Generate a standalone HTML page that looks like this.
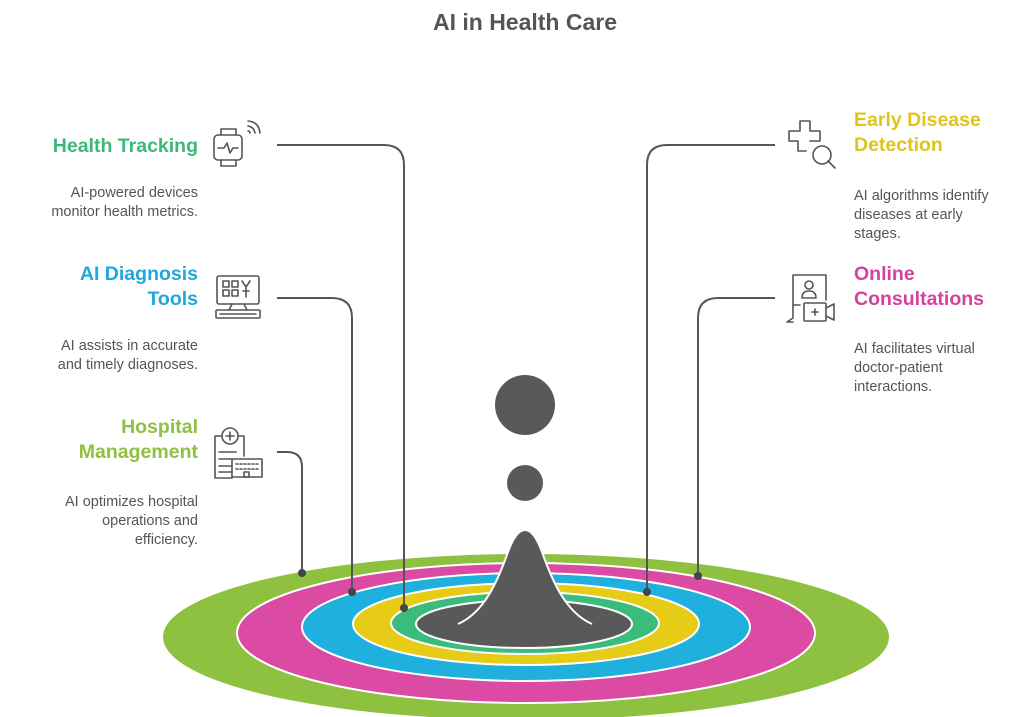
<!DOCTYPE html>
<html><head><meta charset="utf-8"><style>
html,body{margin:0;padding:0;background:#fff;}
svg{display:block;font-family:"Liberation Sans",Arial,sans-serif;}
.h{font-size:19.5px;font-weight:bold;}
.b{font-size:14.5px;fill:#555;}
.ic{fill:none;stroke:#555;stroke-width:1.6;stroke-linecap:round;stroke-linejoin:round;}
.ln{fill:none;stroke:#555;stroke-width:2;}
</style></head><body>
<svg width="1024" height="717" viewBox="0 0 1024 717">
<text x="525" y="30" text-anchor="middle" font-size="23" font-weight="bold" fill="#555">AI in Health Care</text>

<!-- rings -->
<ellipse cx="526" cy="637" rx="363" ry="83" fill="#8dc13f"/>
<ellipse cx="526" cy="633" rx="289" ry="70" fill="#db4aa3" stroke="#fff" stroke-width="2"/>
<ellipse cx="526" cy="627" rx="224" ry="54" fill="#1fb0de" stroke="#fff" stroke-width="2"/>
<ellipse cx="526" cy="624" rx="173" ry="41" fill="#e6cc16" stroke="#fff" stroke-width="2"/>
<ellipse cx="525" cy="623" rx="134" ry="31" fill="#3cbc7c" stroke="#fff" stroke-width="2"/>
<ellipse cx="524" cy="624" rx="108" ry="24" fill="#595959" stroke="#fff" stroke-width="2"/>
<path d="M458 624 C485 612 498 580 508 552 Q516 530 525 530 Q534 530 542 552 C552 580 565 612 592 624" fill="#595959" stroke="#fff" stroke-width="2"/>
<circle cx="525" cy="405" r="30" fill="#595959"/>
<circle cx="525" cy="483" r="18" fill="#595959"/>

<!-- connectors -->
<path class="ln" d="M277 145 H384 Q404 145 404 165 V608"/>
<circle cx="404" cy="608" r="4" fill="#444"/>
<path class="ln" d="M277 298 H332 Q352 298 352 318 V592"/>
<circle cx="352" cy="592" r="4" fill="#444"/>
<path class="ln" d="M277 452 H287 Q302 452 302 467 V573"/>
<circle cx="302" cy="573" r="4" fill="#444"/>
<path class="ln" d="M775 145 H667 Q647 145 647 165 V592"/>
<circle cx="647" cy="592" r="4" fill="#444"/>
<path class="ln" d="M775 298 H718 Q698 298 698 318 V576"/>
<circle cx="698" cy="576" r="4" fill="#444"/>

<!-- left texts -->
<text class="h" x="198" y="152" text-anchor="end" fill="#3cb878">Health Tracking</text>
<text class="b" x="198" y="197" text-anchor="end">AI-powered devices</text>
<text class="b" x="198" y="216" text-anchor="end">monitor health metrics.</text>
<text class="h" x="198" y="280" text-anchor="end" fill="#1ea8dc">AI Diagnosis</text>
<text class="h" x="198" y="305" text-anchor="end" fill="#1ea8dc">Tools</text>
<text class="b" x="198" y="350" text-anchor="end">AI assists in accurate</text>
<text class="b" x="198" y="369" text-anchor="end">and timely diagnoses.</text>
<text class="h" x="198" y="433" text-anchor="end" fill="#8dc13f">Hospital</text>
<text class="h" x="198" y="458" text-anchor="end" fill="#8dc13f">Management</text>
<text class="b" x="198" y="506" text-anchor="end">AI optimizes hospital</text>
<text class="b" x="198" y="525" text-anchor="end">operations and</text>
<text class="b" x="198" y="544" text-anchor="end">efficiency.</text>

<!-- right texts -->
<text class="h" x="854" y="126" fill="#e0c41a">Early Disease</text>
<text class="h" x="854" y="151" fill="#e0c41a">Detection</text>
<text class="b" x="854" y="200">AI algorithms identify</text>
<text class="b" x="854" y="219">diseases at early</text>
<text class="b" x="854" y="238">stages.</text>
<text class="h" x="854" y="280" fill="#d6409f">Online</text>
<text class="h" x="854" y="305" fill="#d6409f">Consultations</text>
<text class="b" x="854" y="353">AI facilitates virtual</text>
<text class="b" x="854" y="372">doctor-patient</text>
<text class="b" x="854" y="391">interactions.</text>

<!-- icons -->
<g class="ic">
 <rect x="214" y="135" width="28" height="25" rx="4"/>
 <path d="M221 135 V129 H236 V135 M221 160 V166 H236 V160"/>
 <path d="M218 148 H224 L227 143 L230 153 L233 148 H238"/>
 <path d="M248 126 Q254 127 255 133 M248 121 Q259 122 260 133 M248 131 Q250 131 250 133"/>

 <rect x="217" y="276" width="42" height="28" rx="2"/>
 <rect x="223" y="281" width="6" height="6"/><rect x="232" y="281" width="6" height="6"/>
 <rect x="223" y="290" width="6" height="6"/><rect x="232" y="290" width="6" height="6"/>
 <path d="M242 281 L246 287 L250 281 M246 287 V297 M243 291 H249"/>
 <path d="M232 304 L229 310 M244 304 L247 310"/>
 <rect x="216" y="310" width="44" height="8" rx="1"/>
 <path d="M220 314 H256"/>

 <circle cx="230" cy="436" r="8"/><path d="M230 432 V440 M226 436 H234"/>
 <path d="M222 436 H215 V478 H232 M238 436 H244 V456"/>
 <path d="M219 452 H236 M219 459 H232 M219 466 H232 M219 472 H232"/>
 <rect x="232" y="459" width="30" height="18"/>
 <path d="M236 464 H258 M236 469 H258" stroke-dasharray="2 2"/>
 <rect x="244" y="472" width="5" height="5"/>

 <path d="M800 121 H810 V131 H820 V141 H810 M800 121 V131 H789 V141 H798 V151 H806"/>
 <circle cx="822" cy="155" r="9"/><path d="M828 161 L835 168"/>

 <path d="M793 275 H826 V300 M800 305 H793 V318 L787 322 H793 M793 305 V275"/>
 <circle cx="809" cy="285" r="4"/><path d="M802 298 Q802 291 809 291 Q816 291 816 298 Z"/>
 <rect x="804" y="303" width="22" height="18" rx="1"/>
 <path d="M812 312 H818 M815 309 V315"/>
 <path d="M826 308 L834 304 V320 L826 316"/>
</g>
</svg>
</body></html>
